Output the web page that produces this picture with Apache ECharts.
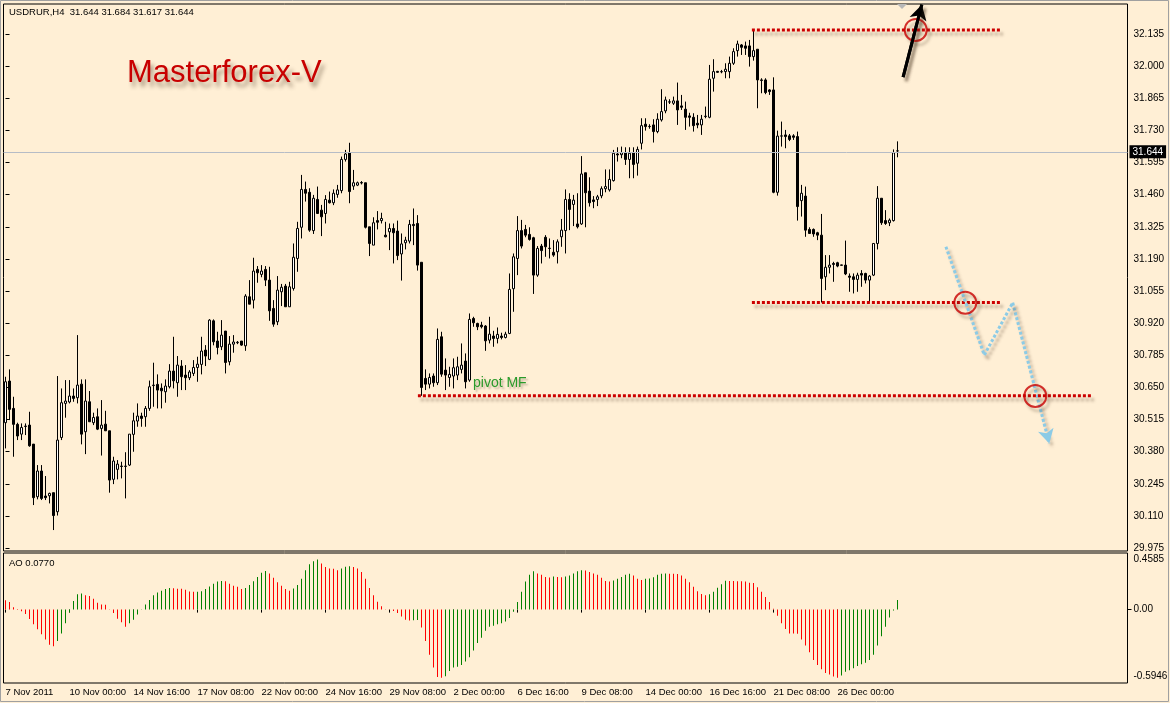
<!DOCTYPE html>
<html><head><meta charset="utf-8">
<script src="https://cdn.jsdelivr.net/npm/echarts@6/dist/echarts.min.js"></script>
<style>html,body{margin:0;padding:0;background:#FFEFD5;}#c{width:1170px;height:703px;}</style>
</head><body><div id="c"></div>
<script>
// ---------- DATA ----------
const symbolTitle = 'USDRUR,H4  31.644 31.684 31.617 31.644';
const aoTitle = 'AO 0.0770';
const brandText = 'Masterforex-V';
const pivotText = 'pivot MF';

const opens = [
30.502,30.677,30.562,30.495,30.454,30.486,30.492,30.412,30.191,30.299,
30.194,30.195,30.208,30.128,30.440,30.583,30.589,30.614,30.607,30.664,
30.464,30.590,30.502,30.527,30.478,30.496,30.468,30.264,30.306,30.320,
30.318,30.324,30.453,30.509,30.530,30.527,30.562,30.658,30.663,30.647,
30.632,30.653,30.719,30.670,30.740,30.702,30.691,30.709,30.734,30.747,
30.807,30.768,30.930,30.845,30.821,30.887,30.758,30.832,30.838,30.845,
30.825,31.031,31.017,31.146,31.125,31.146,31.101,30.982,30.926,31.052,
31.076,30.989,31.066,31.192,31.323,31.482,31.470,31.309,31.440,31.395,
31.381,31.437,31.426,31.461,31.477,31.608,31.636,31.496,31.500,31.509,
31.510,31.325,31.248,31.351,31.351,31.290,31.304,31.318,31.307,31.211,
31.258,31.265,31.335,31.339,31.176,30.688,30.664,30.698,30.670,30.863,
30.723,30.692,30.698,30.702,30.726,30.761,30.681,30.940,30.919,30.912,
30.908,30.849,30.866,30.856,30.866,30.860,30.877,31.065,31.192,31.309,
31.314,31.293,31.279,31.122,31.244,31.281,31.235,31.218,31.220,31.283,
31.309,31.440,31.419,31.337,31.337,31.552,31.475,31.438,31.440,31.455,
31.485,31.480,31.519,31.631,31.628,31.636,31.608,31.636,31.592,31.676,
31.756,31.746,31.753,31.725,31.774,31.812,31.849,31.844,31.854,31.833,
31.819,31.791,31.785,31.760,31.753,31.788,31.785,31.949,31.978,31.976,
31.977,31.977,32.012,32.065,32.089,32.085,32.085,32.040,32.071,31.942,
31.942,31.900,31.900,31.470,31.706,31.711,31.707,31.707,31.704,31.435,
31.454,31.314,31.314,31.300,31.290,31.115,31.155,31.171,31.174,31.163,
31.164,31.118,31.115,31.104,31.129,31.129,31.101,31.122,31.255,31.445,
31.351,31.342,31.351,31.644];

const highs = [
30.695,30.726,30.611,30.502,30.499,30.499,30.548,30.412,30.324,30.324,
30.278,30.208,30.208,30.698,30.646,30.681,30.681,30.646,30.870,30.684,
30.684,30.635,30.544,30.562,30.597,30.552,30.468,30.359,30.345,30.338,
30.378,30.454,30.544,30.583,30.544,30.572,30.679,30.754,30.705,30.667,
30.684,30.748,30.863,30.782,30.765,30.744,30.723,30.765,30.779,30.863,
30.828,30.937,30.936,30.884,30.933,30.887,30.866,30.870,30.845,30.845,
31.042,31.101,31.195,31.160,31.164,31.160,31.157,31.017,31.118,31.085,
31.085,31.094,31.255,31.346,31.543,31.515,31.487,31.459,31.494,31.417,
31.458,31.473,31.482,31.501,31.620,31.648,31.678,31.564,31.515,31.517,
31.510,31.325,31.365,31.391,31.384,31.346,31.339,31.339,31.351,31.297,
31.283,31.354,31.402,31.374,31.176,30.726,30.709,30.709,30.898,30.884,
30.772,30.737,30.772,30.779,30.835,30.793,30.961,30.947,30.922,30.926,
30.912,30.947,30.888,30.902,30.880,30.884,31.129,31.213,31.370,31.354,
31.333,31.323,31.283,31.244,31.253,31.290,31.276,31.269,31.272,31.358,
31.482,31.466,31.459,31.466,31.622,31.552,31.533,31.454,31.459,31.495,
31.566,31.566,31.648,31.659,31.662,31.659,31.659,31.659,31.662,31.781,
31.781,31.756,31.777,31.802,31.903,31.872,31.861,31.872,31.931,31.879,
31.851,31.804,31.802,31.795,31.795,31.830,32.005,32.029,31.980,31.984,
32.012,32.040,32.075,32.107,32.093,32.103,32.110,32.152,32.071,31.949,
31.949,31.903,31.953,31.729,31.767,31.732,31.715,31.714,31.725,31.501,
31.494,31.323,31.318,31.304,31.379,31.206,31.206,31.178,31.178,31.166,
31.267,31.129,31.129,31.132,31.143,31.132,31.122,31.255,31.496,31.445,
31.395,31.360,31.650,31.684];

const lows = [
30.394,30.513,30.359,30.429,30.429,30.450,30.401,30.156,30.180,30.177,
30.177,30.163,30.051,30.112,30.429,30.523,30.583,30.590,30.583,30.411,
30.370,30.506,30.492,30.471,30.364,30.467,30.208,30.244,30.264,30.268,
30.184,30.320,30.380,30.485,30.485,30.485,30.552,30.569,30.562,30.562,
30.586,30.646,30.646,30.611,30.639,30.639,30.681,30.698,30.674,30.705,
30.740,30.765,30.827,30.789,30.807,30.709,30.743,30.796,30.832,30.825,
30.804,31.000,30.982,31.090,31.113,31.076,30.930,30.905,30.912,30.992,
30.989,30.989,31.057,31.136,31.276,31.431,31.304,31.295,31.379,31.286,
31.339,31.423,31.416,31.447,31.466,31.599,31.424,31.480,31.496,31.503,
31.318,31.202,31.248,31.314,31.339,31.281,31.227,31.171,31.185,31.099,
31.230,31.255,31.248,31.141,30.615,30.639,30.646,30.653,30.660,30.695,
30.639,30.653,30.646,30.681,30.709,30.646,30.674,30.905,30.891,30.898,
30.804,30.835,30.821,30.835,30.852,30.856,30.874,30.968,31.122,31.234,
31.281,31.267,31.043,31.115,31.171,31.199,31.192,31.199,31.171,31.241,
31.213,31.311,31.328,31.318,31.333,31.323,31.410,31.403,31.412,31.445,
31.470,31.473,31.515,31.599,31.613,31.585,31.529,31.529,31.540,31.650,
31.729,31.737,31.679,31.718,31.767,31.802,31.841,31.837,31.753,31.816,
31.732,31.746,31.725,31.739,31.711,31.781,31.781,31.893,31.972,31.970,
31.949,31.949,32.005,32.040,32.047,32.047,31.998,32.023,31.823,31.886,
31.882,31.879,31.466,31.456,31.662,31.655,31.685,31.690,31.351,31.368,
31.283,31.295,31.283,31.269,31.007,31.059,31.129,31.094,31.155,31.162,
31.122,31.052,31.045,31.052,31.073,31.087,31.007,31.118,31.230,31.333,
31.333,31.328,31.347,31.617];

const closes = [
30.674,30.558,30.495,30.446,30.482,30.488,30.405,30.187,30.299,30.184,
30.187,30.205,30.112,30.429,30.586,30.593,30.614,30.604,30.660,30.454,
30.593,30.506,30.524,30.475,30.492,30.468,30.261,30.341,30.328,30.318,
30.320,30.454,30.510,30.530,30.520,30.562,30.653,30.660,30.639,30.636,
30.656,30.719,30.678,30.744,30.695,30.691,30.715,30.734,30.748,30.803,
30.782,30.933,30.842,30.818,30.870,30.755,30.832,30.841,30.840,30.828,
31.034,31.000,31.139,31.132,31.139,31.101,30.972,30.916,31.059,31.071,
30.989,31.073,31.197,31.318,31.482,31.466,31.311,31.445,31.381,31.367,
31.440,31.426,31.466,31.480,31.608,31.631,31.473,31.510,31.510,31.511,
31.323,31.255,31.342,31.344,31.360,31.283,31.318,31.300,31.204,31.253,
31.269,31.335,31.330,31.164,30.650,30.664,30.692,30.670,30.852,30.706,
30.702,30.705,30.733,30.737,30.744,30.674,30.936,30.922,30.905,30.905,
30.846,30.874,30.856,30.873,30.860,30.874,31.062,31.199,31.309,31.244,
31.290,31.272,31.122,31.234,31.225,31.241,31.234,31.206,31.262,31.311,
31.440,31.398,31.437,31.325,31.547,31.468,31.426,31.431,31.451,31.485,
31.494,31.524,31.634,31.627,31.636,31.608,31.634,31.587,31.650,31.750,
31.746,31.747,31.725,31.777,31.809,31.858,31.850,31.854,31.816,31.827,
31.785,31.785,31.750,31.753,31.777,31.790,31.945,31.977,31.974,31.977,
31.987,32.012,32.061,32.093,32.079,32.075,32.040,32.065,31.942,31.940,
31.889,31.893,31.470,31.706,31.707,31.704,31.692,31.701,31.410,31.466,
31.311,31.297,31.295,31.290,31.108,31.155,31.164,31.167,31.160,31.165,
31.127,31.113,31.104,31.122,31.122,31.101,31.118,31.255,31.445,31.342,
31.339,31.353,31.636,31.644];

const aoValues = [
0.075,0.061,0.019,0.004,-0.014,-0.036,-0.077,-0.119,-0.160,-0.200,
-0.243,-0.285,-0.296,-0.254,-0.193,-0.110,-0.022,0.069,0.124,0.130,
0.116,0.110,0.088,0.055,0.041,0.039,0.003,-0.028,-0.075,-0.102,
-0.138,-0.110,-0.083,-0.039,-0.002,0.041,0.077,0.116,0.138,0.152,
0.166,0.174,0.173,0.169,0.168,0.160,0.146,0.144,0.145,0.148,
0.166,0.188,0.210,0.227,0.232,0.229,0.210,0.193,0.185,0.166,
0.174,0.199,0.229,0.265,0.298,0.312,0.293,0.257,0.221,0.193,
0.166,0.152,0.171,0.199,0.249,0.318,0.368,0.392,0.406,0.373,
0.346,0.332,0.330,0.318,0.332,0.348,0.351,0.346,0.332,0.304,
0.249,0.174,0.116,0.064,0.028,0.002,-0.001,-0.011,-0.028,-0.055,
-0.083,-0.088,-0.086,-0.084,-0.144,-0.254,-0.365,-0.470,-0.547,-0.553,
-0.539,-0.497,-0.470,-0.462,-0.448,-0.420,-0.387,-0.332,-0.271,-0.229,
-0.171,-0.138,-0.130,-0.119,-0.110,-0.097,-0.069,-0.017,0.061,0.144,
0.227,0.282,0.310,0.293,0.282,0.265,0.260,0.268,0.265,0.263,
0.268,0.276,0.293,0.310,0.318,0.317,0.304,0.293,0.282,0.257,
0.232,0.227,0.235,0.249,0.265,0.282,0.290,0.276,0.249,0.240,
0.249,0.251,0.263,0.282,0.290,0.292,0.291,0.290,0.289,0.276,
0.249,0.221,0.185,0.149,0.127,0.116,0.124,0.144,0.177,0.205,
0.233,0.232,0.231,0.230,0.229,0.227,0.218,0.215,0.182,0.144,
0.102,0.061,0.006,-0.050,-0.110,-0.157,-0.193,-0.194,-0.195,-0.243,
-0.290,-0.345,-0.409,-0.448,-0.484,-0.514,-0.525,-0.542,-0.553,-0.533,
-0.503,-0.492,-0.475,-0.456,-0.442,-0.431,-0.409,-0.365,-0.290,-0.216,
-0.138,-0.064,-0.008,0.077];

const dateTickLabels = ['7 Nov 2011','10 Nov 00:00','14 Nov 16:00','17 Nov 08:00','22 Nov 00:00',
  '24 Nov 16:00','29 Nov 08:00','2 Dec 00:00','6 Dec 16:00','9 Dec 08:00','14 Dec 00:00',
  '16 Dec 16:00','21 Dec 08:00','26 Dec 00:00'];
const priceTicks = [32.135,32.000,31.865,31.730,31.595,31.460,31.325,31.190,31.055,30.920,
  30.785,30.650,30.515,30.380,30.245,30.110,29.975];
const aoTicks = [0.4585, 0, -0.5946];
const currentPrice = 31.644;
const priceMin = 29.963, priceMax = 32.261;

// annotations (bar-index, price)
const levelLines = [
  {price: 32.152, fromBar: 186.6, toBar: 248.6},
  {price: 31.007, fromBar: 186.6, toBar: 248.6},
  {price: 30.615, fromBar: 103.1, toBar: 271.6}
];
const circleMarks = [[227.55, 32.152], [239.95, 31.006], [257.45, 30.614]];
const upArrow = [[224.4, 31.954], [229.07, 32.258]];
const downPath = [[235.1, 31.241], [244.7, 30.786], [251.8, 31.006], [260.95, 30.415]];

// ---------- CHART ----------
const SLOTS = 281, BARS_PER_LABEL = 16;
const slots = Array.from({length: SLOTS}, (_, i) => String(i));
const isLabelSlot = i => i % BARS_PER_LABEL === 0 && i / BARS_PER_LABEL < dateTickLabels.length;
const FONT = '"Liberation Sans", Arial, sans-serif';

const candleData = opens.map((o, i) => [o, closes[i], lows[i], highs[i]]);
const aoData = aoValues.map((v, i) => ({
  value: v,
  itemStyle: {color: (i > 0 && v > aoValues[i - 1]) ? '#008000' : '#ff0000'}
}));
const shadow = {shadowColor: 'rgba(70,50,30,0.35)', shadowBlur: 3, shadowOffsetX: 3, shadowOffsetY: 4};
const redDots = Object.assign({color: '#cc0000', width: 3, type: [3, 2]}, shadow);
const blueDots = Object.assign({color: '#8ccbe6', width: 3, type: [3, 2]}, shadow);
const blackShaft = Object.assign({color: '#000000', width: 3, type: 'solid'}, shadow);

const series = [
  {
    type: 'candlestick', xAxisIndex: 0, yAxisIndex: 0, data: candleData, barWidth: 2,
    itemStyle: {color: '#ffffff', color0: '#000000', borderColor: '#000000', borderColor0: '#000000', borderWidth: 1},
    silent: true,
    markLine: {
      silent: true, symbol: ['none', 'none'], animation: false,
      lineStyle: {color: '#b6bcc6', width: 1, type: 'solid'},
      label: {show: true, position: 'end', distance: 2, formatter: () => currentPrice.toFixed(3),
        color: '#ffffff', backgroundColor: '#000000', padding: [2, 3, 1, 3], fontSize: 10, fontFamily: FONT},
      data: [{yAxis: currentPrice}]
    }
  },
  {
    type: 'bar', xAxisIndex: 1, yAxisIndex: 1, data: aoData, barWidth: 1, silent: true
  }
];
levelLines.forEach(l => series.push({
  type: 'line', xAxisIndex: 2, yAxisIndex: 0, silent: true, symbol: 'none', clip: false,
  data: [[l.fromBar, l.price], [l.toBar, l.price]], lineStyle: redDots, z: 5
}));
series.push({
  type: 'scatter', xAxisIndex: 2, yAxisIndex: 0, silent: true, clip: false, data: circleMarks,
  symbol: 'circle', symbolSize: 22, z: 7,
  itemStyle: Object.assign({color: 'rgba(0,0,0,0)', borderColor: '#c80000', borderWidth: 2}, shadow)
});
series.push({
  type: 'line', xAxisIndex: 2, yAxisIndex: 0, silent: true, symbol: 'none', clip: false, z: 6,
  data: downPath.slice(0, 3), lineStyle: blueDots,
  markLine: {
    silent: true, symbol: ['none', 'arrow'], symbolSize: [12, 14], animation: false,
    lineStyle: blueDots, label: {show: false},
    data: [[{coord: downPath[2]}, {coord: downPath[3]}]]
  }
});
series.push({
  type: 'line', xAxisIndex: 2, yAxisIndex: 0, silent: true, symbol: 'none', clip: false, z: 8,
  data: upArrow, lineStyle: blackShaft,
  markLine: {
    silent: true, symbol: ['none', 'arrow'], symbolSize: [13, 15], animation: false,
    lineStyle: blackShaft, label: {show: false},
    data: [[{coord: upArrow[0]}, {coord: upArrow[1]}]]
  }
});

const option = {
  animation: false,
  backgroundColor: '#FFEFD5',
  textStyle: {fontFamily: FONT},
  title: [
    {text: symbolTitle, left: 9, top: 7, padding: 0, textStyle: {fontSize: 9.5, fontWeight: 'normal', color: '#000', fontFamily: FONT}},
    {text: aoTitle, left: 9, top: 558, padding: 0, textStyle: {fontSize: 9.5, fontWeight: 'normal', color: '#000', fontFamily: FONT}},
    {text: brandText, left: 127, top: 58, padding: 0, textStyle: {fontSize: 31, fontWeight: 'normal', color: '#c80000', fontFamily: FONT,
      textShadowColor: 'rgba(60,40,20,0.45)', textShadowBlur: 4, textShadowOffsetX: 3, textShadowOffsetY: 5}},
    {text: pivotText, left: 473, top: 376, padding: 0, textStyle: {fontSize: 14, fontWeight: 'normal', color: '#2a9a2a', fontFamily: FONT,
      textShadowColor: 'rgba(60,40,20,0.3)', textShadowBlur: 2, textShadowOffsetX: 2, textShadowOffsetY: 2}}
  ],
  grid: [
    {left: 3.5, width: 1124, top: 4, height: 547, show: true, borderColor: '#000', borderWidth: 1, backgroundColor: 'transparent', containLabel: false, outerBoundsMode: 'none'},
    {left: 3.5, width: 1124, top: 553, height: 130, show: true, borderColor: '#000', borderWidth: 1, backgroundColor: 'transparent', containLabel: false, outerBoundsMode: 'none'}
  ],
  xAxis: [
    {type: 'category', gridIndex: 0, data: slots, boundaryGap: true, show: false},
    {type: 'category', gridIndex: 1, data: slots, boundaryGap: true,
      axisLine: {show: false},
      axisTick: {show: true, alignWithLabel: true, length: 3, interval: (i) => isLabelSlot(i), lineStyle: {color: '#000'}},
      axisLabel: {show: true, interval: (i) => isLabelSlot(i), formatter: (v) => dateTickLabels[Number(v) / BARS_PER_LABEL] || '',
        align: 'left', margin: 4, fontSize: 9.5, color: '#000', fontFamily: FONT},
      splitLine: {show: false}},
    {type: 'value', gridIndex: 0, min: -0.5, max: SLOTS - 0.5, show: false}
  ],
  yAxis: [
    {type: 'value', gridIndex: 0, position: 'right', min: priceMin, max: priceMax,
      splitLine: {show: false}, axisLine: {show: false},
      axisTick: {show: true, length: 4, customValues: priceTicks, lineStyle: {color: '#000'}},
      axisLabel: {show: true, customValues: priceTicks, formatter: v => v.toFixed(3), margin: 6, fontSize: 10, color: '#000', fontFamily: FONT}},
    {type: 'value', gridIndex: 1, position: 'right', min: aoTicks[2], max: aoTicks[0],
      splitLine: {show: false}, axisLine: {show: false},
      axisTick: {show: true, length: 4, customValues: [0], lineStyle: {color: '#000'}},
      axisLabel: {show: true, customValues: aoTicks, margin: 6, fontSize: 10, color: '#000', fontFamily: FONT,
        formatter: v => v > 0.3 ? '{t|' + v.toFixed(4) + '}' : (v < -0.3 ? '{b|' + v.toFixed(4) + '}' : v.toFixed(2)),
        rich: {t: {padding: [12, 0, 0, 0], fontSize: 10, fontFamily: FONT}, b: {padding: [0, 0, 14, 0], fontSize: 10, fontFamily: FONT}}}}
  ],
  graphic: [
    {type: 'rect', silent: true, shape: {x: 0.5, y: 0.5, width: 1168, height: 701}, style: {fill: 'none', stroke: '#a0a0a0', lineWidth: 1}, z: 100},
    {type: 'polygon', silent: true, shape: {points: [[897, 4], [907, 4], [902, 9]]}, style: {fill: '#b8b8b8'}, z: 100}
  ],
  series: series
};

const chart = echarts.init(document.getElementById('c'), null, {renderer: 'canvas', width: 1170, height: 703});
chart.setOption(option);
</script>
</body></html>
